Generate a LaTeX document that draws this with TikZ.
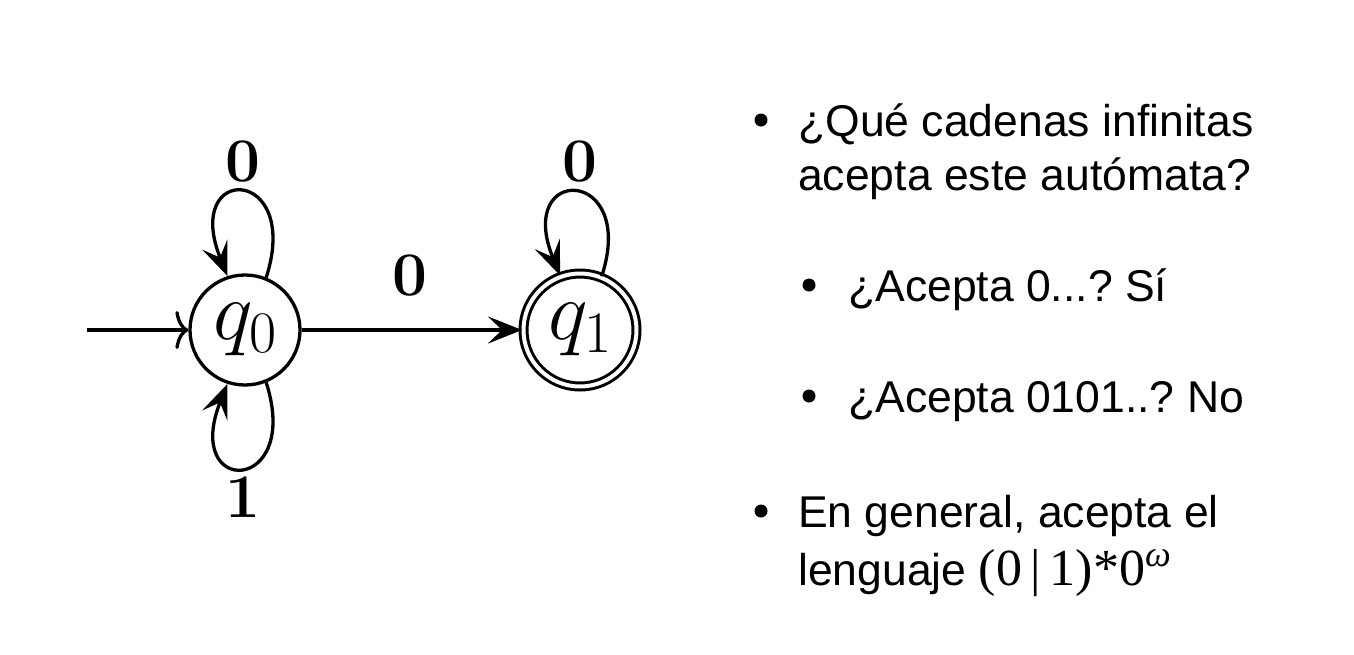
\RequirePackage{fix-cm}
\documentclass[tikz,border=0pt]{standalone}
\usepackage{fontspec}
\newfontfamily\sansf{Liberation Sans}
\newfontfamily\seriff{Liberation Serif}
\usetikzlibrary{arrows.meta}
\frenchspacing
\begin{document}
\begin{tikzpicture}[x=1pt,y=-1pt,
  stateq/.style={circle, draw, line width=3.3pt, minimum size=110pt, inner sep=0pt,
    font=\fontsize{84}{90}\selectfont},
  acceptq/.style={stateq, double, double distance=4pt, line width=3pt, minimum size=113pt},
  lbl/.style={font=\fontsize{62}{66}\selectfont\bfseries, inner sep=0pt},
  arr/.style={line width=3.3pt, -{Stealth[length=34pt,width=27pt,inset=14pt]}},
  initarr/.style={line width=3.3pt, -{To[length=13pt,width=38pt]}},
  txt/.style={font=\fontsize{44.5}{53}\selectfont\sansf, anchor=base west, inner sep=0pt},
  bul/.style={circle, fill, minimum size=13pt, inner sep=0pt}]
\useasboundingbox (0,0) rectangle (1354,654);
\fill[white] (0,0) rectangle (1354,654);

% states
\node[stateq] (q0) at (245,330) {$q_0$};
\node[acceptq] (q1) at (580,330) {$q_1$};
\coordinate (start) at (87,330);

% transitions
\draw[initarr] (start) -- (q0);
\draw[arr] (q0) -- (q1);
\draw[arr] (q0.68) .. controls +(36,-112) and +(-46,-114) .. (q0.108);
\draw[arr] (q0.-68) .. controls +(36,112) and +(-46,114) .. (q0.-108);
\draw[arr] (q1.68) .. controls +(36,-110) and +(-46,-112) .. (q1.110);

% labels
\node[lbl] (l00) at (243,162) {0};
\node[lbl] (l01) at (243,497) {1};
\node[lbl] (l0e) at (410,276) {0};
\node[lbl] (l11) at (580,162) {0};

% text
\node[bul] (b1) at (761,120) {};
\node[txt] (t1) at (798,136) {¿Qué cadenas infinitas};
\node[txt] (t2) at (798,190) {acepta este autómata?};
\node[bul] (b2) at (809,285) {};
\node[txt] (t3) at (848,301) {¿Acepta 0...? Sí};
\node[bul] (b3) at (809,396) {};
\node[txt] (t4) at (848,412) {¿Acepta 0101..? No};
\node[bul] (b4) at (761,511) {};
\node[txt] (t5) at (798,527) {En general, acepta el};
\node[txt] (t6) at (798,585) {lenguaje {\fontsize{52}{53}\selectfont\seriff (0\,|\,1)*0\textsuperscript{\itshape ω}}};
\end{tikzpicture}
\end{document}
